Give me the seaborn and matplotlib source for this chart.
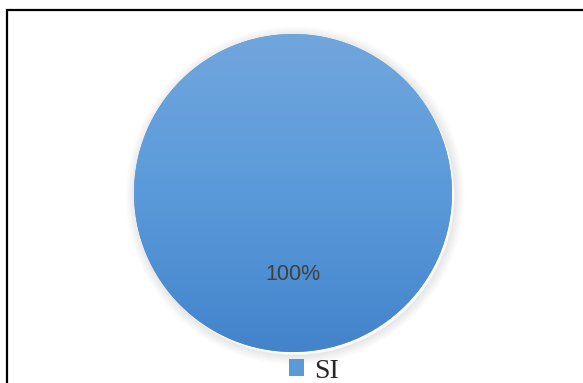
import numpy as np
import matplotlib
matplotlib.use("Agg")
import matplotlib.pyplot as plt
from matplotlib.patches import Rectangle, Circle
from matplotlib.colors import LinearSegmentedColormap
import seaborn as sns

# Survey answers and their shares
categories = ["SI"]
shares = [100]

sns.set_theme(style="white")
plt.rcParams["font.family"] = ["Liberation Sans", "DejaVu Sans"]

W, H = 583, 383
fig = plt.figure(figsize=(W / 100, H / 100), dpi=100)
fig.patch.set_facecolor("white")

# chart-area border (continues past the right and bottom edges)
fig.patches.append(Rectangle((7 / W, -0.05), 1.2, 1 - 10 / H + 0.05,
                             transform=fig.transFigure, fill=False,
                             edgecolor="black", linewidth=1.6, zorder=0))

# pie axes: centre (293, 193) px, radius 159 px
R = 159
cx, cy = 293, 193
ax = fig.add_axes([(cx - R) / W, (H - cy - R) / H, 2 * R / W, 2 * R / H])

base = "#5B9BD5"
wedges, texts, autotexts = ax.pie(
    shares, labels=None, colors=[base], startangle=90, counterclock=False,
    autopct="%1.0f%%", pctdistance=0.51, radius=1,
    textprops=dict(color="#404040", fontsize=15.5),
    wedgeprops=dict(linewidth=0))
ax.set_xlim(-1, 1)
ax.set_ylim(-1, 1)
ax.set_aspect("equal")
ax.axis("off")

# soft outer shadow, offset a little to the lower right
px = 1 / R
for k in range(10):
    ax.add_patch(Circle((2 * px, -2.5 * px), 1 + (k + 0.5) * px,
                        facecolor="none", edgecolor="black",
                        linewidth=1.2, alpha=0.06 * (1 - k / 10),
                        zorder=0.5, clip_on=False))

# vertical gradient fill clipped to each wedge
cmap = LinearSegmentedColormap.from_list("blue_grad", ["#71A6DD", "#5A9ADA", "#4383CB"])
grad = np.linspace(0, 1, 256).reshape(-1, 1)
for w in wedges:
    im = ax.imshow(grad, cmap=cmap, extent=(-1, 1, -1, 1), origin="upper",
                   aspect="auto", zorder=1.5)
    im.set_clip_path(w)
for t in autotexts:
    t.set_zorder(3)

leg = fig.legend(wedges, categories, loc="center",
                 bbox_to_anchor=(314 / W, 1 - 371 / H), frameon=False,
                 prop=dict(family=["Liberation Serif", "DejaVu Serif"], size=20),
                 handlelength=0.55, handleheight=0.55, handletextpad=0.35,
                 borderpad=0, borderaxespad=0)

fig.savefig("out.png", dpi=100, facecolor="white")
